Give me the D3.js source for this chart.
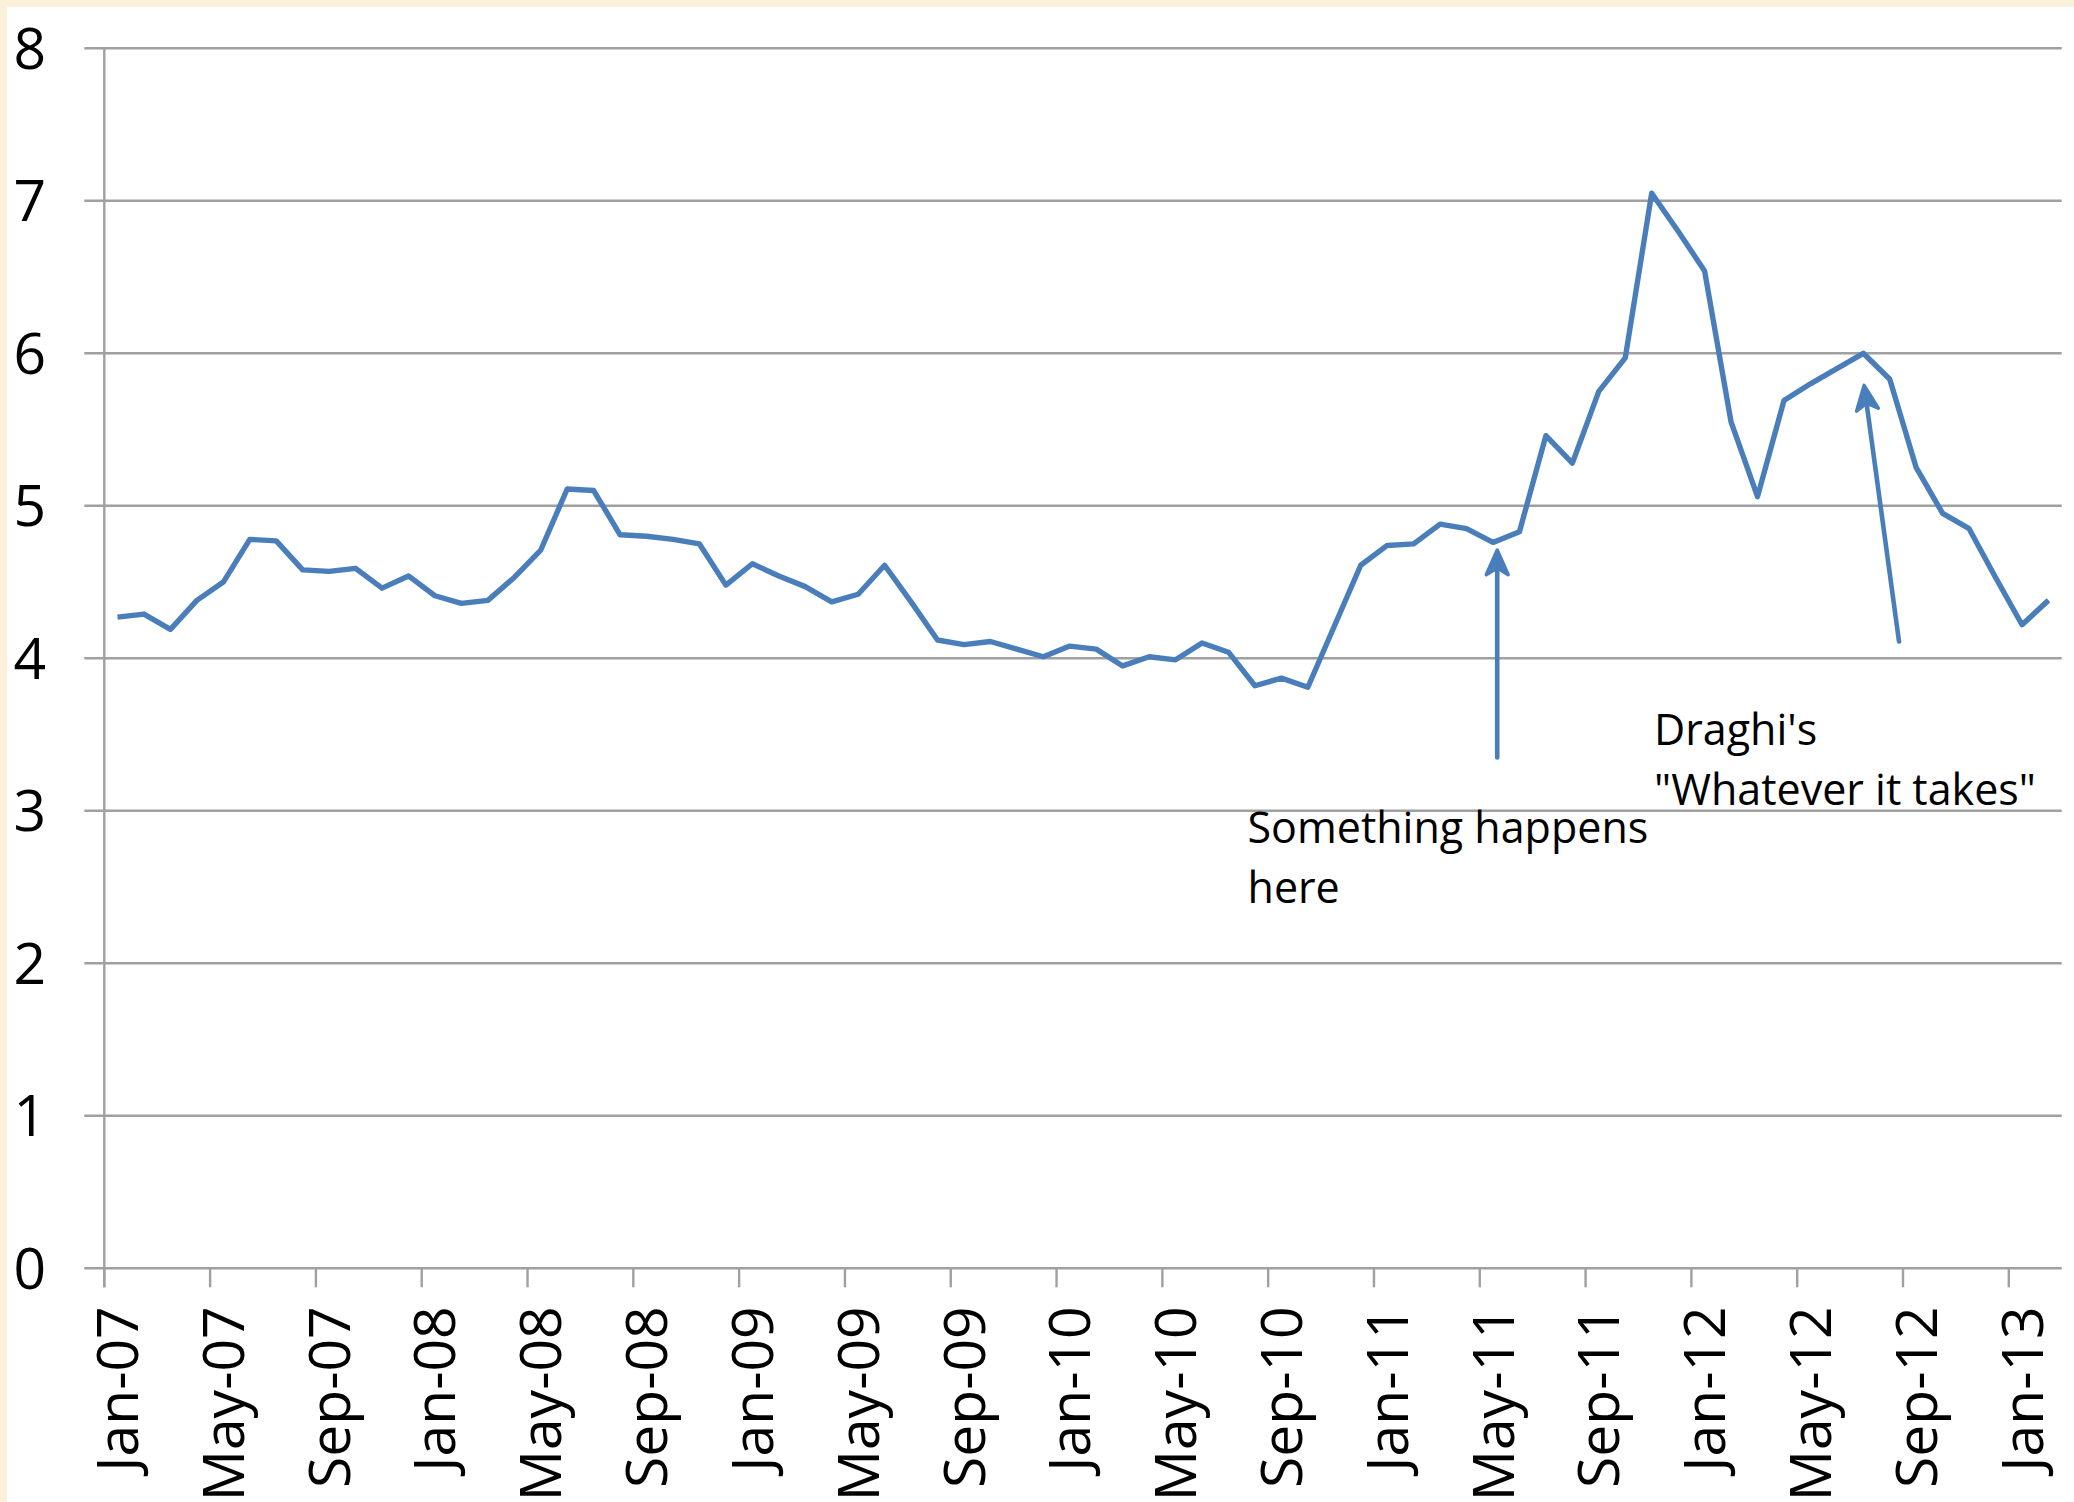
<!DOCTYPE html>
<html>
<head>
<meta charset="utf-8">
<script src="https://cdn.jsdelivr.net/npm/d3@7"></script>
<style>
  html, body { margin: 0; padding: 0; background: #ffffff; }
  svg { display: block; }
  text { font-family: "Open Sans", "Noto Sans", sans-serif; fill: #000; }
</style>
</head>
<body>
<svg id="chart" width="2074" height="1502"></svg>
<script>
// Monthly series, Jan 2007 – Feb 2013
const firstMonth = new Date(2007, 0, 1);
const values = [
  4.27, 4.29, 4.19, 4.38, 4.50, 4.78, 4.77, 4.58, 4.57, 4.59, 4.46, 4.54,
  4.41, 4.36, 4.38, 4.53, 4.71, 5.11, 5.10, 4.81, 4.80, 4.78, 4.75, 4.48,
  4.62, 4.54, 4.47, 4.37, 4.42, 4.61, 4.37, 4.12, 4.09, 4.11, 4.06, 4.01,
  4.08, 4.06, 3.95, 4.01, 3.99, 4.10, 4.04, 3.82, 3.87, 3.81, 4.21, 4.61,
  4.74, 4.75, 4.88, 4.85, 4.76, 4.83, 5.46, 5.28, 5.75, 5.97, 7.05, 6.80,
  6.54, 5.55, 5.06, 5.69, 5.80, 5.90, 6.00, 5.83, 5.25, 4.95, 4.85, 4.53,
  4.22, 4.38
];
const months = d3.timeMonth.range(firstMonth, d3.timeMonth.offset(firstMonth, values.length));
const series = months.map((m, i) => ({ month: m, value: values[i] }));

const yTicks = [0, 1, 2, 3, 4, 5, 6, 7, 8];
const xTickLabels = ["Jan-07", "May-07", "Sep-07", "Jan-08", "May-08", "Sep-08", "Jan-09",
  "May-09", "Sep-09", "Jan-10", "May-10", "Sep-10", "Jan-11", "May-11", "Sep-11",
  "Jan-12", "May-12", "Sep-12", "Jan-13"];

// Annotations: positions as [month index, value]; month index counts from Jan-07 = 0
const arrows = [
  { from: [52.16, 3.35], to: [52.16, 4.71] },
  { from: [67.35, 4.11], to: [66.03, 5.79] }
];
const notes = [
  { at: [42.72, 2.79], lines: ["Something happens", "here"] },
  { at: [58.09, 3.43], lines: ["Draghi's", "\"Whatever it takes\""] }
];

const fmt = d3.timeFormat("%b-%y");
const svg = d3.select("#chart");

// page backdrop with a cream margin along the top and left
svg.append("rect").attr("width", 2074).attr("height", 1502).attr("fill", "#fbf1d8");
svg.append("rect").attr("x", 7).attr("y", 7).attr("width", 2067).attr("height", 1495).attr("fill", "#ffffff");

const plotLeft = 104.3, plotRight = 2061.7, plotTop = 48.3, plotBottom = 1268.3;

const x = d3.scaleBand().domain(months).range([plotLeft, plotRight]).padding(0);
const xIdx = d3.scaleLinear().domain([0, months.length]).range([plotLeft, plotRight]);
const y = d3.scaleLinear().domain([0, 8]).range([plotBottom, plotTop]);
const cx = d => x(d.month) + x.bandwidth() / 2;
const mx = i => xIdx(i + 0.5);   // centre of month i

const gridColor = "#a0a0a0";

// horizontal gridlines (the 0 line doubles as the category axis)
svg.append("g").selectAll("line").data(yTicks).join("line")
  .attr("x1", plotLeft - 20).attr("x2", plotRight)
  .attr("y1", d => y(d)).attr("y2", d => y(d))
  .attr("stroke", gridColor).attr("stroke-width", 2.4);

// value axis line
svg.append("line")
  .attr("x1", plotLeft).attr("x2", plotLeft)
  .attr("y1", y(8)).attr("y2", plotBottom + 19)
  .attr("stroke", gridColor).attr("stroke-width", 2.4);

// value labels
svg.append("g").selectAll("text").data(yTicks).join("text")
  .attr("x", 46).attr("y", d => y(d)).attr("dy", "0.36em")
  .attr("text-anchor", "end").attr("font-size", 57)
  .text(d => d);

// category ticks and labels, every fourth month
const tickMonths = months.filter(m => xTickLabels.includes(fmt(m)));
svg.append("g").selectAll("line").data(tickMonths).join("line")
  .attr("x1", d => x(d)).attr("x2", d => x(d))
  .attr("y1", plotBottom).attr("y2", plotBottom + 19)
  .attr("stroke", gridColor).attr("stroke-width", 2.4);

svg.append("g").selectAll("text").data(tickMonths).join("text")
  .attr("transform", d => `translate(${x(d) + x.bandwidth() / 2},${plotBottom + 38}) rotate(-90)`)
  .attr("text-anchor", "end").attr("dy", "0.36em").attr("font-size", 57)
  .text(d => fmt(d));

// the series line
const line = d3.line().x(cx).y(d => y(d.value));
svg.append("path").datum(series)
  .attr("d", line)
  .attr("fill", "none").attr("stroke", "#4a7ebb")
  .attr("stroke-width", 5.4).attr("stroke-linejoin", "round");

// annotation arrows
const arrowG = svg.append("g").attr("stroke", "#4a7ebb").attr("fill", "none")
  .attr("stroke-width", 4.6).attr("stroke-linecap", "round");
arrows.forEach(a => {
  const x1 = mx(a.from[0]), y1 = y(a.from[1]);
  const x2 = mx(a.to[0]), y2 = y(a.to[1]);
  const ang = Math.atan2(y1 - y2, x1 - x2);
  const len = 27, spread = 0.42;
  const p1 = [x2 + len * Math.cos(ang + spread), y2 + len * Math.sin(ang + spread)];
  const p2 = [x2 + len * Math.cos(ang - spread), y2 + len * Math.sin(ang - spread)];
  const pm = [x2 + 18 * Math.cos(ang), y2 + 18 * Math.sin(ang)];
  arrowG.append("line").attr("x1", x1).attr("y1", y1).attr("x2", pm[0]).attr("y2", pm[1]);
  arrowG.append("path")
    .attr("d", `M${p1[0]},${p1[1]}L${x2},${y2}L${p2[0]},${p2[1]}L${pm[0]},${pm[1]}Z`)
    .attr("fill", "#4a7ebb").attr("stroke-width", 3.4).attr("stroke-linejoin", "round");
});

// annotation text
notes.forEach(n => {
  const t = svg.append("text")
    .attr("x", mx(n.at[0])).attr("y", y(n.at[1]))
    .attr("font-size", 43);
  n.lines.forEach((s, i) => {
    t.append("tspan").attr("x", mx(n.at[0])).attr("dy", i === 0 ? 0 : 60).text(s);
  });
});
</script>
</body>
</html>
